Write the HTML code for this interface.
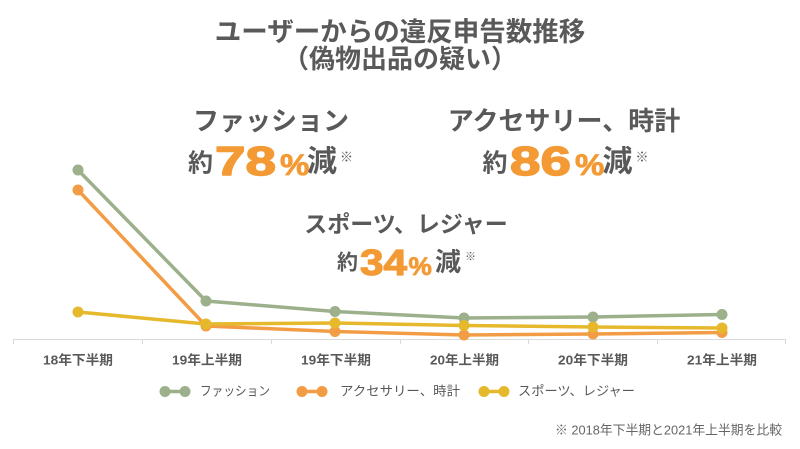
<!DOCTYPE html>
<html><head><meta charset="utf-8">
<style>
html,body{margin:0;padding:0;background:#fff;}
svg{display:block;}
text{font-family:"Liberation Sans","Noto Sans CJK JP",sans-serif;fill:#595959;}
.b{font-weight:bold;}
.num{font-family:"Liberation Sans",sans-serif;font-weight:bold;fill:#F39A35;stroke:#F39A35;stroke-width:1.4;stroke-linejoin:round;}
.pct{font-family:"Liberation Sans",sans-serif;font-weight:bold;fill:#F39A35;stroke:#F39A35;stroke-width:0.8;}
</style></head>
<body>
<svg width="800" height="449" viewBox="0 0 800 449" xmlns="http://www.w3.org/2000/svg">
<rect width="800" height="449" fill="#fff"/>
<!-- title -->
<text class="b" x="400" y="32" font-size="26.5" text-anchor="middle" dominant-baseline="central">ユーザーからの違反申告数推移</text>
<text class="b" x="400" y="59" font-size="26" text-anchor="middle" dominant-baseline="central">（偽物出品の疑い）</text>

<!-- fashion -->
<text class="b" x="271" y="121" font-size="26" text-anchor="middle" dominant-baseline="central">ファッション</text>
<text class="b" x="200.5" y="163.5" font-size="25" text-anchor="middle" dominant-baseline="central">約</text>
<text class="num" x="215" y="175" font-size="41" textLength="61" lengthAdjust="spacingAndGlyphs">78</text>
<text class="pct" transform="translate(280,175) scale(1.1,1)" style="font-size:30px">%</text>
<text class="b" x="322" y="162" font-size="30" text-anchor="middle" dominant-baseline="central">減</text>
<text x="346.5" y="157" font-size="13" text-anchor="middle" dominant-baseline="central">※</text>

<!-- accessory -->
<text class="b" x="564" y="121" font-size="26" text-anchor="middle" dominant-baseline="central">アクセサリー、時計</text>
<text class="b" x="495" y="163.5" font-size="25" text-anchor="middle" dominant-baseline="central">約</text>
<text class="num" x="510" y="175" font-size="41" textLength="61" lengthAdjust="spacingAndGlyphs">86</text>
<text class="pct" transform="translate(575,175) scale(1.1,1)" style="font-size:30px">%</text>
<text class="b" x="617.5" y="162" font-size="30" text-anchor="middle" dominant-baseline="central">減</text>
<text x="642" y="157" font-size="13" text-anchor="middle" dominant-baseline="central">※</text>

<!-- sports -->
<text class="b" x="406" y="224" font-size="23" text-anchor="middle" dominant-baseline="central">スポーツ、レジャー</text>
<text class="b" x="347.5" y="263" font-size="21" text-anchor="middle" dominant-baseline="central">約</text>
<text class="num" x="360" y="275" font-size="36" textLength="47" lengthAdjust="spacingAndGlyphs" style="stroke-width:1.2">34</text>
<text class="pct" transform="translate(408.5,275) scale(1.05,1)" style="font-size:25px">%</text>
<text class="b" x="448" y="262" font-size="26" text-anchor="middle" dominant-baseline="central">減</text>
<text x="470.5" y="257" font-size="11" text-anchor="middle" dominant-baseline="central">※</text>

<!-- axis -->
<line x1="13" y1="339.5" x2="786" y2="339.5" stroke="#d9d9d9" stroke-width="1"/>
<g stroke="#d9d9d9" stroke-width="1">
<line x1="13.5" y1="339" x2="13.5" y2="344"/>
<line x1="142.5" y1="339" x2="142.5" y2="344"/>
<line x1="271.5" y1="339" x2="271.5" y2="344"/>
<line x1="400.5" y1="339" x2="400.5" y2="344"/>
<line x1="528.5" y1="339" x2="528.5" y2="344"/>
<line x1="657.5" y1="339" x2="657.5" y2="344"/>
<line x1="785.5" y1="339" x2="785.5" y2="344"/>
</g>

<!-- category labels -->
<g font-size="13">
<text class="b" x="43" y="360" textLength="70" lengthAdjust="spacingAndGlyphs" dominant-baseline="central">18年下半期</text>
<text class="b" x="172" y="360" textLength="70" lengthAdjust="spacingAndGlyphs" dominant-baseline="central">19年上半期</text>
<text class="b" x="301" y="360" textLength="70" lengthAdjust="spacingAndGlyphs" dominant-baseline="central">19年下半期</text>
<text class="b" x="430" y="360" textLength="69" lengthAdjust="spacingAndGlyphs" dominant-baseline="central">20年上半期</text>
<text class="b" x="558" y="360" textLength="70" lengthAdjust="spacingAndGlyphs" dominant-baseline="central">20年下半期</text>
<text class="b" x="687" y="360" textLength="70" lengthAdjust="spacingAndGlyphs" dominant-baseline="central">21年上半期</text>
</g>

<!-- series -->
<g fill="none" stroke-width="3.5" stroke-linejoin="round" stroke-linecap="round">
<polyline stroke="#9CB08B" points="78,170 206,301 335,311.5 464,318 593,317 722,314.5"/>
<polyline stroke="#F29D45" points="78,190 206,326 335,331.5 464,335 593,334 722,332.5"/>
<polyline stroke="#E6B92C" points="78,312 206,324 335,323 464,325.5 593,327 722,328"/>
</g>
<g fill="#9CB08B">
<circle cx="78" cy="170" r="5.5"/><circle cx="206" cy="301" r="5.5"/><circle cx="335" cy="311.5" r="5.5"/><circle cx="464" cy="318" r="5.5"/><circle cx="593" cy="317" r="5.5"/><circle cx="722" cy="314.5" r="5.5"/>
</g>
<g fill="#F29D45">
<circle cx="78" cy="190" r="5.5"/><circle cx="206" cy="326" r="5.5"/><circle cx="335" cy="331.5" r="5.5"/><circle cx="464" cy="335" r="5.5"/><circle cx="593" cy="334" r="5.5"/><circle cx="722" cy="332.5" r="5.5"/>
</g>
<g fill="#E6B92C">
<circle cx="78" cy="312" r="5.5"/><circle cx="206" cy="324" r="5.5"/><circle cx="335" cy="323" r="5.5"/><circle cx="464" cy="325.5" r="5.5"/><circle cx="593" cy="327" r="5.5"/><circle cx="722" cy="328" r="5.5"/>
</g>

<!-- legend -->
<g stroke-width="3.5">
<line x1="165" y1="391.5" x2="185" y2="391.5" stroke="#9CB08B"/>
<line x1="302" y1="391.5" x2="322" y2="391.5" stroke="#F29D45"/>
<line x1="484" y1="391.5" x2="504" y2="391.5" stroke="#E6B92C"/>
</g>
<g>
<circle cx="165" cy="391.5" r="5.5" fill="#9CB08B"/><circle cx="185" cy="391.5" r="5.5" fill="#9CB08B"/>
<circle cx="302" cy="391.5" r="5.5" fill="#F29D45"/><circle cx="322" cy="391.5" r="5.5" fill="#F29D45"/>
<circle cx="484" cy="391.5" r="5.5" fill="#E6B92C"/><circle cx="504" cy="391.5" r="5.5" fill="#E6B92C"/>
</g>
<text x="200" y="391" font-size="13" textLength="70" lengthAdjust="spacingAndGlyphs" dominant-baseline="central">ファッション</text>
<text x="340" y="391" font-size="13" textLength="120" lengthAdjust="spacingAndGlyphs" dominant-baseline="central">アクセサリー、時計</text>
<text x="518" y="391" font-size="13" textLength="117" lengthAdjust="spacingAndGlyphs" dominant-baseline="central">スポーツ、レジャー</text>

<!-- footnote -->
<text x="555" y="430" font-size="13" style="fill:#666" textLength="227" lengthAdjust="spacingAndGlyphs" dominant-baseline="central">※ 2018年下半期と2021年上半期を比較</text>
</svg>
</body></html>
